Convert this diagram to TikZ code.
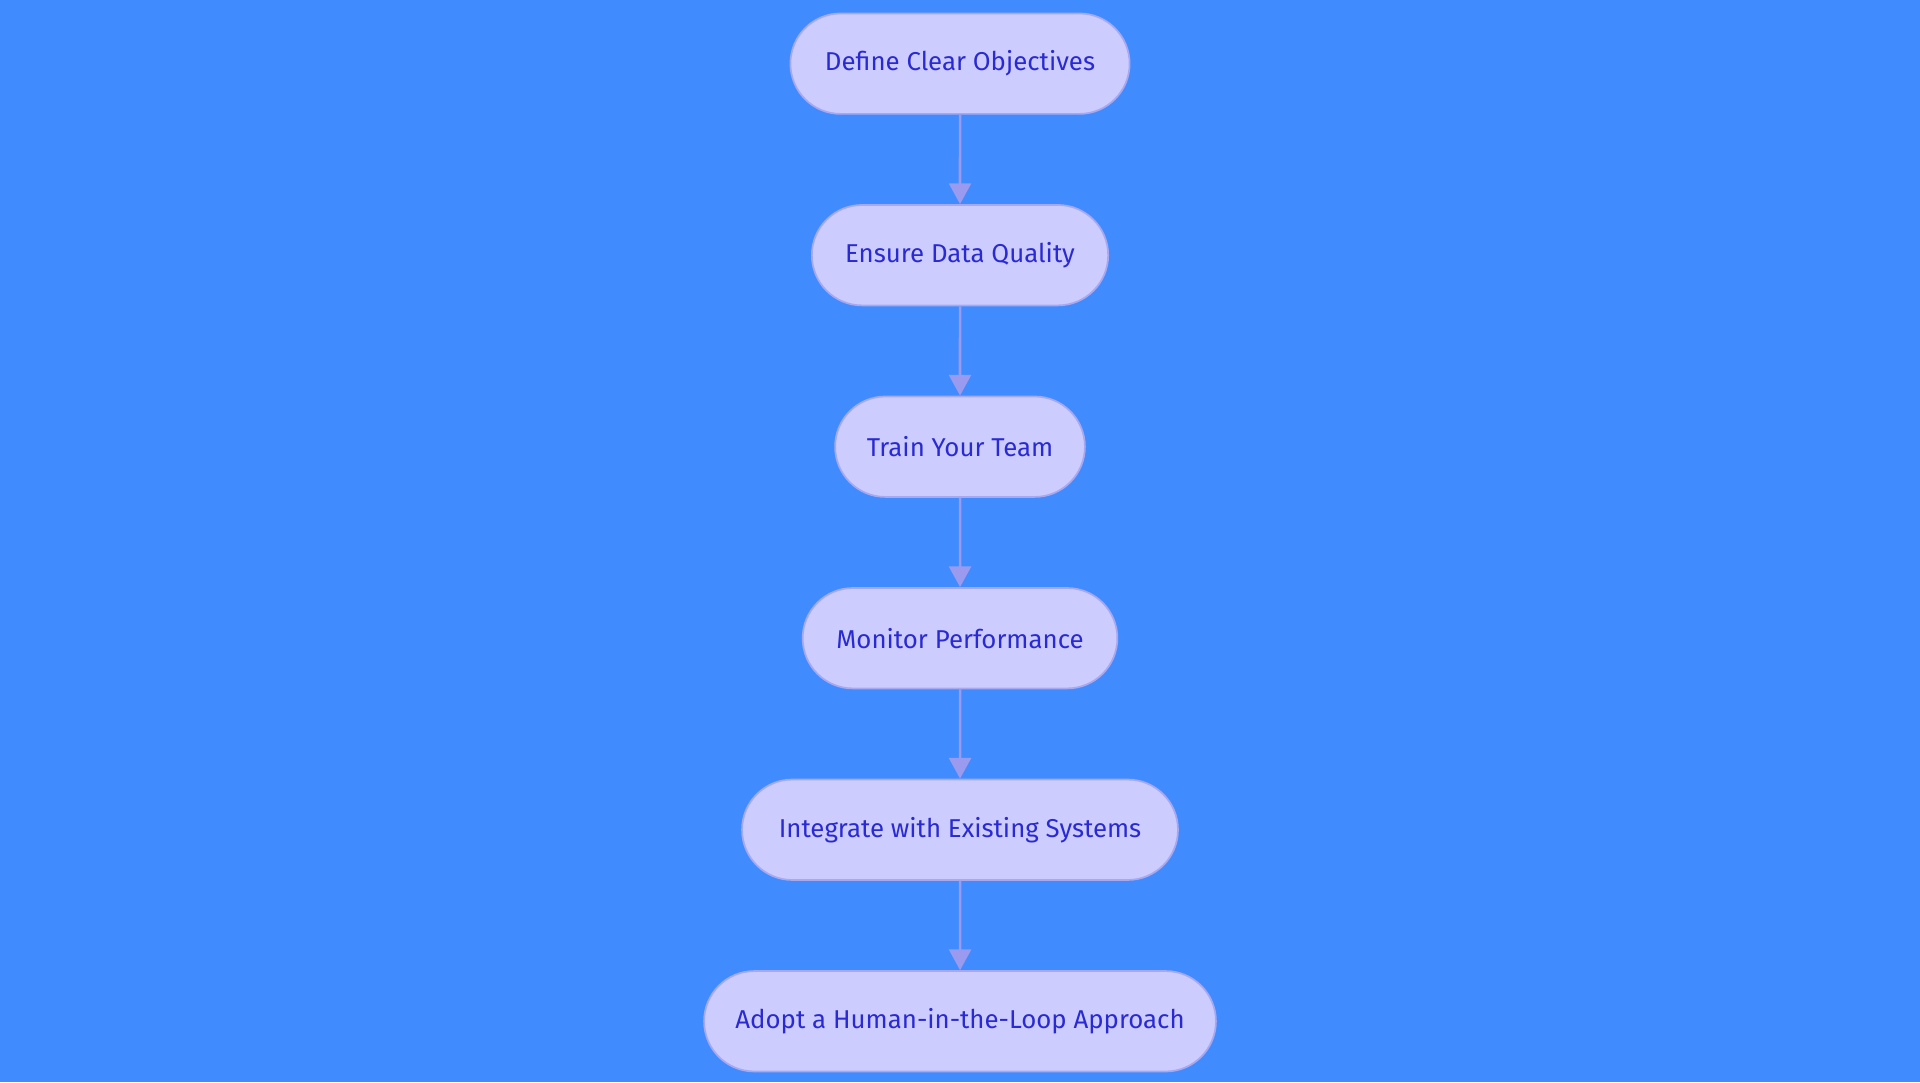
\documentclass[tikz,border=0pt]{standalone}
\usepackage{fontspec}
\setmainfont{Fira Sans}
\usetikzlibrary{positioning,arrows.meta,shapes.misc}
\definecolor{bgBlue}{HTML}{408CFF}
\definecolor{stepFill}{HTML}{CCCCFF}
\definecolor{stepLine}{HTML}{A8A8F0}
\definecolor{stepText}{HTML}{2A2AD2}
\definecolor{flowLine}{HTML}{9A9AEE}
\tikzset{
    tsStep/.style={
        rounded rectangle,
        draw=stepLine,
        line width=0.4pt,
        fill=stepFill,
        text=stepText,
        font=\fontsize{6}{7}\selectfont,
        minimum height=0.82cm,
        inner sep=0pt
    },
    tsFlow/.style={
        draw=flowLine,
        line width=0.6pt,
        -{Triangle[length=0.17cm,width=0.18cm]}
    }
}
\begin{document}
\begin{tikzpicture}[node distance=0.73cm]

    \fill[bgBlue] (0,0) rectangle (15.68,-8.84);
    \useasboundingbox (0,0) rectangle (15.68,-8.84);

    \node[tsStep, minimum width=2.77cm] (objectives) at (7.84,-0.52) {Define Clear Objectives};
    \node[tsStep, minimum width=2.42cm, below=of objectives] (quality) {Ensure Data Quality};
    \node[tsStep, minimum width=2.04cm, below=of quality] (team) {Train Your Team};
    \node[tsStep, minimum width=2.57cm, below=of team] (monitor) {Monitor Performance};
    \node[tsStep, minimum width=3.56cm, below=of monitor] (integrate) {Integrate with Existing Systems};
    \node[tsStep, minimum width=4.18cm, below=of integrate] (loop) {Adopt a Human-in-the-Loop Approach};

    \draw[tsFlow] (objectives) -- (quality);
    \draw[tsFlow] (quality) -- (team);
    \draw[tsFlow] (team) -- (monitor);
    \draw[tsFlow] (monitor) -- (integrate);
    \draw[tsFlow] (integrate) -- (loop);

\end{tikzpicture}
\end{document}
